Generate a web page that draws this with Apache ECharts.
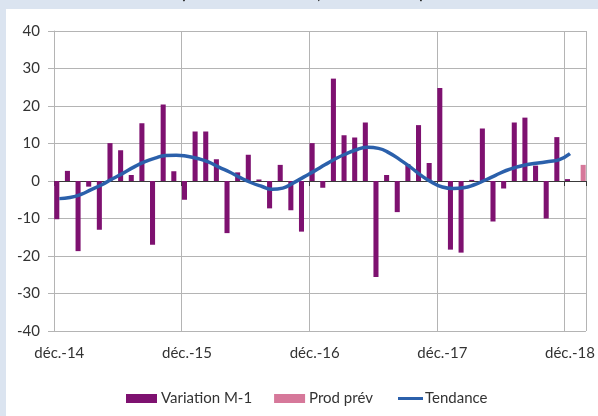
<!DOCTYPE html>
<html>
<head>
<meta charset="utf-8">
<script src="https://cdn.jsdelivr.net/npm/echarts@6/dist/echarts.min.js"></script>
<style>html,body{margin:0;padding:0;background:#fff;}#c{width:598px;height:416px;}</style>
</head>
<body>
<div id="c"></div>
<script>
var categories = [
  "déc.-14",
  "janv.-15","févr.-15","mars-15","avr.-15","mai-15","juin-15","juil.-15","août-15","sept.-15","oct.-15","nov.-15","déc.-15",
  "janv.-16","févr.-16","mars-16","avr.-16","mai-16","juin-16","juil.-16","août-16","sept.-16","oct.-16","nov.-16","déc.-16",
  "janv.-17","févr.-17","mars-17","avr.-17","mai-17","juin-17","juil.-17","août-17","sept.-17","oct.-17","nov.-17","déc.-17",
  "janv.-18","févr.-18","mars-18","avr.-18","mai-18","juin-18","juil.-18","août-18","sept.-18","oct.-18","nov.-18","déc.-18",
  "janv.-19"
];
var variationM1 = [-10.2, 2.7, -18.7, -1.5, -13.0, 10.1, 8.2, 1.6, 15.4, -17.0, 20.4, 2.6,
  -5.0, 13.2, 13.2, 5.8, -13.9, 2.3, 7.0, 0.4, -7.3, 4.3, -7.8, -13.5,
  10.1, -1.8, 27.3, 12.2, 11.6, 15.6, -25.6, 1.6, -8.3, 4.5, 14.9, 4.8,
  24.8, -18.3, -19.1, 0.3, 14.0, -10.8, -2.0, 15.6, 16.9, 4.1, -10.0, 11.7,
  0.5, null];
var prodPrev = [null,null,null,null,null,null,null,null,null,null,null,null,
  null,null,null,null,null,null,null,null,null,null,null,null,
  null,null,null,null,null,null,null,null,null,null,null,null,
  null,null,null,null,null,null,null,null,null,null,null,null,
  null, 4.3];
var tendance = [-4.7, -4.4, -3.6, -2.3, -1.0, 0.6, 2.1, 3.7, 5.1, 6.1, 6.8, 6.9,
  6.6, 6.0, 5.1, 3.7, 2.4, 0.9, -0.4, -1.4, -2.2, -1.9, -0.5, 1.1,
  2.7, 4.4, 6.0, 7.3, 8.4, 9.0, 8.7, 7.5, 5.7, 3.7, 1.5, -0.3,
  -1.6, -2.0, -1.8, -1.0, 0.2, 1.5, 2.8, 3.7, 4.4, 4.8, 5.2, 5.7,
  7.3, null];
var yTicks = {min: -40, max: 40, step: 10};
var titleText = "(en milliers d'unités, données CVS)";

var FONT = "Lato";
var GRID = "#b4b4b4";
var TXT = "#333333";
var isDec = function (i) { return i % 12 === 0; };

var chart = echarts.init(document.getElementById('c'), null, {renderer: 'canvas'});
chart.setOption({
  backgroundColor: '#ffffff',
  animation: false,
  textStyle: {fontFamily: FONT},
  graphic: [
    {type: 'rect', left: 0, top: 0, shape: {width: 598, height: 9}, style: {fill: '#dbe4f0'}, silent: true},
    {type: 'rect', left: 0, top: 0, shape: {width: 6, height: 416}, style: {fill: '#dbe4f0'}, silent: true},
    {type: 'text', x: 181, y: -14, style: {text: titleText, fill: '#222', font: 'bold 16px Lato', textAlign: 'left', textVerticalAlign: 'top'}, silent: true}
  ],
  grid: {left: 54, right: 12, top: 31, bottom: 85, containLabel: false},
  legend: [
    {
      left: 121, top: 386,
      itemWidth: 31, itemHeight: 9, itemGap: 22,
      textStyle: {fontFamily: FONT, fontSize: 15, color: TXT, padding: [0, 0, 0, -1]},
      data: [
        {name: 'Variation M-1', icon: 'rect'},
        {name: 'Prod prév', icon: 'rect'}
      ]
    },
    {
      left: 393, top: 386,
      itemWidth: 25, itemHeight: 3,
      textStyle: {fontFamily: FONT, fontSize: 15, color: TXT, padding: [0, 0, 0, -3]},
      data: [{name: 'Tendance', icon: 'rect'}]
    }
  ],
  xAxis: [
    {
      type: 'category', data: categories, position: 'bottom', boundaryGap: true,
      axisLine: {show: false, onZero: false},
      axisTick: {show: false},
      axisLabel: {interval: function (i) { return isDec(i); }, margin: 15, fontSize: 15, color: TXT, fontFamily: FONT},
      splitLine: {show: true, interval: function (i) { return isDec(i); }, lineStyle: {color: GRID, width: 1}}
    },
    {
      type: 'category', data: categories, position: 'bottom', boundaryGap: true,
      axisLine: {show: true, onZero: true, lineStyle: {color: '#3a3a3a', width: 1}},
      axisTick: {show: true, interval: function (i) { return isDec(i); }, length: 5, lineStyle: {color: '#3a3a3a'}},
      axisLabel: {show: false},
      splitLine: {show: false}
    }
  ],
  yAxis: {
    type: 'value', min: yTicks.min, max: yTicks.max, interval: yTicks.step,
    axisLine: {show: true, lineStyle: {color: GRID}},
    axisTick: {show: true, length: 6, lineStyle: {color: GRID}},
    axisLabel: {margin: 14, fontSize: 15, color: TXT, fontFamily: FONT},
    splitLine: {show: true, lineStyle: {color: GRID, width: 1}}
  },
  series: [
    {name: 'Variation M-1', type: 'bar', xAxisIndex: 0, data: variationM1, barGap: '0%', barCategoryGap: '5%', itemStyle: {color: '#7e1170'}},
    {name: 'Prod prév', type: 'bar', xAxisIndex: 0, data: prodPrev, barGap: '0%', barCategoryGap: '5%', itemStyle: {color: '#d6789a'}},
    {name: 'Tendance', type: 'line', xAxisIndex: 0, data: tendance, smooth: 0.5, symbol: 'none', showSymbol: false, z: 5,
     lineStyle: {color: '#2b60ab', width: 3.5}, itemStyle: {color: '#2b60ab'}}
  ]
});
</script>
</body>
</html>
